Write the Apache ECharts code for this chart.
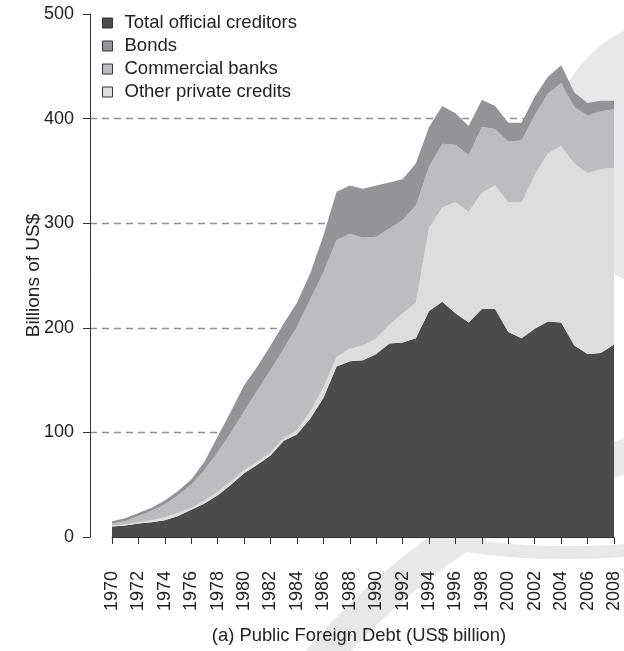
<!DOCTYPE html>
<html>
<head>
<meta charset="utf-8">
<script src="https://cdn.jsdelivr.net/npm/echarts@6/dist/echarts.min.js"></script>
<style>
  html, body { margin: 0; padding: 0; background: #fff; }
  #chart { width: 624px; height: 651px; }
</style>
</head>
<body>
<div id="chart"></div>
<script>
// Years on the horizontal axis
const years = ['1970','1971','1972','1973','1974','1975','1976','1977','1978','1979',
  '1980','1981','1982','1983','1984','1985','1986','1987','1988','1989',
  '1990','1991','1992','1993','1994','1995','1996','1997','1998','1999',
  '2000','2001','2002','2003','2004','2005','2006','2007','2008'];

// Public foreign debt by creditor, US$ billion (stacked bottom to top)
const officialCreditors = [10,11,13,14,16,20,26,32,40,50,61,69,78,92,98,113,133,163,168,169,
  175,185,186,190,216,225,214,205,218,218,196,190,199,206,205,183,175,176,184];
const otherPrivate = [1,1,1,2,3,3,2,3,3,3,3,3,3,3,4,7,10,9,12,14,
  15,18,28,34,80,90,106,106,111,118,124,130,147,161,169,174,173,176,169];
const commercialBanks = [2,3,6,9,12,17,22,29,38,47,56,68,79,85,99,107,110,112,110,103,
  97,92,89,93,58,61,55,54,63,54,58,59,57,57,60,54,55,55,56];
const bonds = [2,3,3,3,4,4,5,8,15,20,25,23,23,24,23,25,35,46,46,47,
  49,44,39,40,38,36,30,28,26,22,18,17,18,16,17,14,12,10,8];

const yTicks = [0, 100, 200, 300, 400, 500];

const FONT = '"Liberation Sans", Arial, Helvetica, sans-serif';
const WATERMARK = '#e8e8e9';

function areaSeries(name, values, color) {
  return {
    name: name,
    type: 'line',
    stack: 'debt',
    xAxisIndex: 1,
    yAxisIndex: 1,
    data: values,
    symbol: 'none',
    smooth: false,
    lineStyle: { width: 0 },
    itemStyle: { color: color },
    areaStyle: { color: color, opacity: 1 },
    emphasis: { disabled: true }
  };
}

const chart = echarts.init(document.getElementById('chart'), null, { renderer: 'canvas' });

chart.setOption({
  animation: false,
  backgroundColor: '#ffffff',
  textStyle: { fontFamily: FONT },
  // faint background swooshes behind the plot
  graphic: [
    { type: 'ring', z: -10, silent: true,
      shape: { cx: 688, cy: 155, r: 140, r0: 60 },
      style: { fill: WATERMARK } },
    { type: 'arc', z: -10, silent: true,
      shape: { cx: 834, cy: 1098, r: 675, startAngle: Math.PI * 1.05, endAngle: Math.PI * 1.5 },
      style: { stroke: WATERMARK, lineWidth: 34, fill: 'none' } },
    { type: 'bezierCurve', z: -10, silent: true,
      shape: { x1: 450, y1: 543, x2: 630, y2: 550, cpx1: 540, cpy1: 558 },
      style: { stroke: WATERMARK, lineWidth: 13, fill: 'none' } }
  ],
  legend: {
    orient: 'vertical',
    left: 102,
    top: 13,
    padding: 0,
    icon: 'rect',
    itemWidth: 10,
    itemHeight: 10,
    itemGap: 3,
    itemStyle: { borderColor: '#333', borderWidth: 1 },
    textStyle: { fontFamily: FONT, fontSize: 18.5, color: '#222', lineHeight: 20, padding: [0, 0, 0, 7] },
    data: ['Total official creditors', 'Bonds', 'Commercial banks', 'Other private credits']
  },
  grid: [
    // frame for the value axis and its dashed reference lines
    { left: 90, right: 10, top: 14, bottom: 114, containLabel: false, outerBoundsMode: 'none' },
    // plotting area for the stacked series
    { left: 112, right: 10, top: 14, bottom: 114, containLabel: false, outerBoundsMode: 'none' }
  ],
  xAxis: [
    { gridIndex: 0, type: 'value', min: 0, max: 1, show: false },
    {
      gridIndex: 1,
      type: 'category',
      data: years,
      boundaryGap: false,
      offset: 20,
      axisLine: { show: true, lineStyle: { color: '#333', width: 1 } },
      axisTick: { show: true, interval: 1, length: 7, lineStyle: { color: '#333' } },
      axisLabel: { interval: 1, rotate: 90, margin: 14, fontSize: 18, color: '#222', fontFamily: FONT },
      splitLine: { show: false },
      name: '(a) Public Foreign Debt (US$ billion)',
      nameLocation: 'middle',
      nameGap: 70,
      nameMoveOverlap: false,
      nameTextStyle: { fontSize: 18.4, color: '#222', fontFamily: FONT, padding: [0, 8, 0, 0] }
    }
  ],
  yAxis: [
    {
      gridIndex: 0,
      type: 'value',
      min: 0,
      max: 500,
      interval: 100,
      axisLine: { show: true, lineStyle: { color: '#333', width: 1 } },
      axisTick: { show: true, length: 7, lineStyle: { color: '#333' } },
      axisLabel: { margin: 16, fontSize: 18, color: '#222', fontFamily: FONT,
        formatter: function (v) { return yTicks.indexOf(v) >= 0 ? String(v) : ''; } },
      splitLine: {
        show: true,
        lineStyle: { color: ['none', '#8f8f8f', '#8f8f8f', '#8f8f8f', '#8f8f8f', 'none'], type: [7, 5], width: 1.3 }
      },
      name: 'Billions of US$',
      nameLocation: 'middle',
      nameGap: 47,
      nameMoveOverlap: false,
      nameTextStyle: { fontSize: 19, color: '#222', fontFamily: FONT }
    },
    { gridIndex: 1, type: 'value', min: 0, max: 500, interval: 100, show: false, splitLine: { show: false } }
  ],
  series: [
    areaSeries('Total official creditors', officialCreditors, '#4b4b4d'),
    areaSeries('Other private credits', otherPrivate, '#dcdddf'),
    areaSeries('Commercial banks', commercialBanks, '#bcbdc0'),
    areaSeries('Bonds', bonds, '#939497')
  ]
});
</script>
</body>
</html>
